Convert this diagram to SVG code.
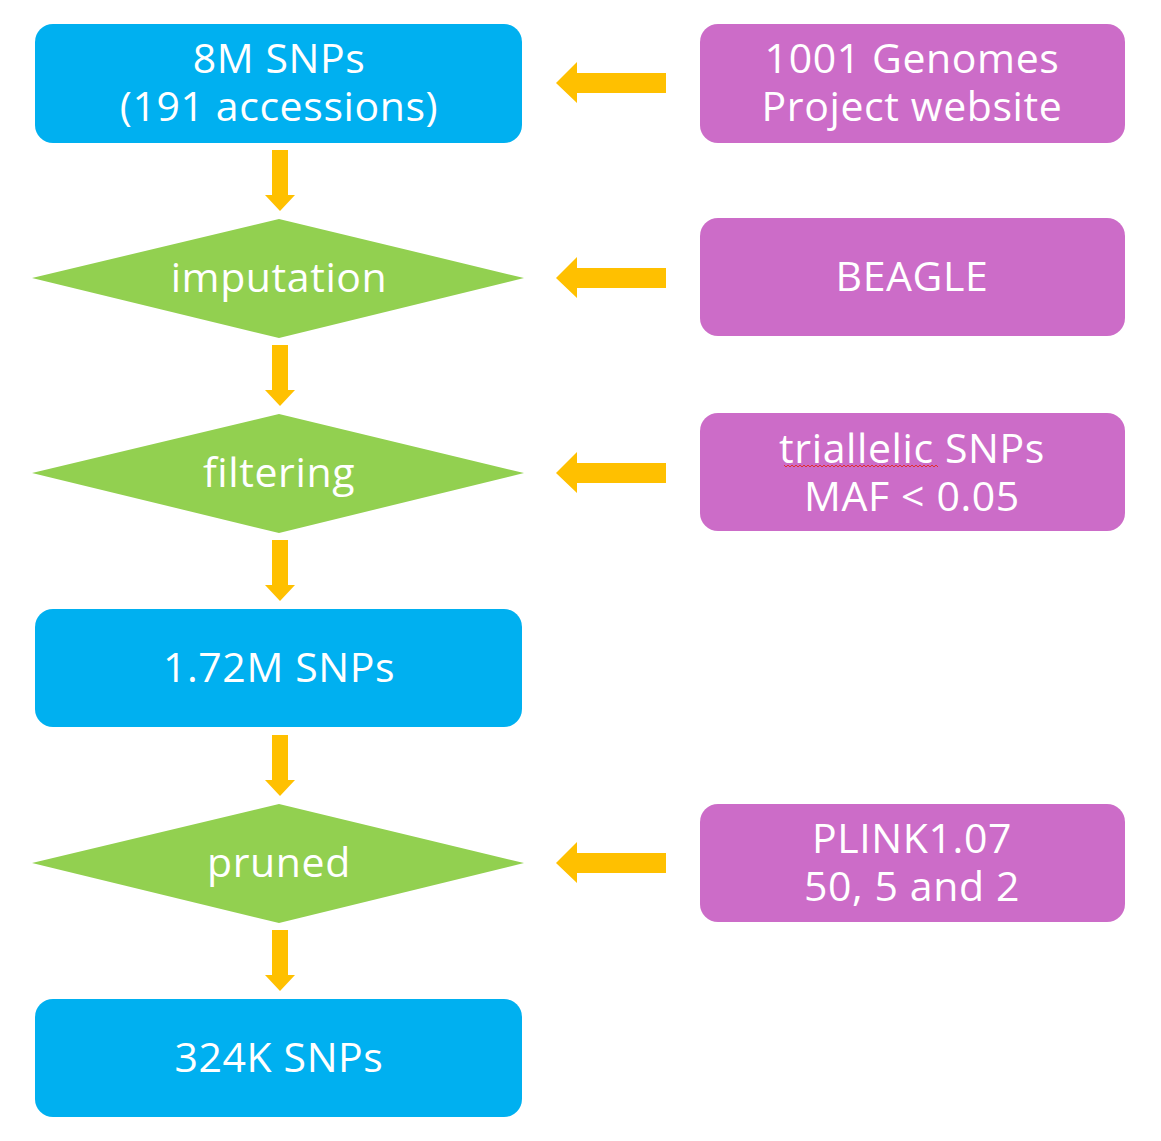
<svg xmlns="http://www.w3.org/2000/svg" width="1161" height="1141" viewBox="0 0 1161 1141">
<style>
.blue{fill:#00B0F0}
.green{fill:#92D050}
.purple{fill:#CC6CC8}
.arr{fill:#FFC000}
text{font-family:"Open Sans","Noto Sans","DejaVu Sans",sans-serif;font-size:41px;letter-spacing:0.6px;fill:#FFFFFF;text-anchor:middle}
</style>
<defs>
<path id="down" d="M272,150 H288 V195 H295 L280,211 L265,195 H272 Z" fill="#FFC000"/>
<path id="left" d="M666,73 V93 H577 V103 L556,83 L577,62 V73 Z" fill="#FFC000"/>
</defs>
<rect width="1161" height="1141" fill="#FFFFFF"/>
<g id="connectors">
<use href="#down" class="arr"/>
<use href="#down" class="arr" y="195"/>
<use href="#down" class="arr" y="390"/>
<use href="#down" class="arr" y="585"/>
<use href="#down" class="arr" y="780"/>
<use href="#left" class="arr"/>
<use href="#left" class="arr" y="195"/>
<use href="#left" class="arr" y="390"/>
<use href="#left" class="arr" y="780"/>
</g>
<g id="n1">
<rect class="blue" x="35" y="24" width="487" height="119" rx="18"/>
<text x="279" y="73">8M SNPs</text>
<text x="279" y="121">(191 accessions)</text>
</g>
<g id="n2">
<polygon class="green" points="32,278 279,219 524,278 279,338"/>
<text x="279" y="292">imputation</text>
</g>
<g id="n3">
<polygon class="green" points="32,473 279,414 524,473 279,533"/>
<text x="279" y="487">filtering</text>
</g>
<g id="n4">
<rect class="blue" x="35" y="609" width="487" height="118" rx="18"/>
<text x="279" y="682">1.72M SNPs</text>
</g>
<g id="n5">
<polygon class="green" points="32,863 279,804 524,863 279,923"/>
<text x="279" y="877">pruned</text>
</g>
<g id="n6">
<rect class="blue" x="35" y="999" width="487" height="118" rx="18"/>
<text x="279" y="1072">324K SNPs</text>
</g>
<g id="p1">
<rect class="purple" x="700" y="24" width="425" height="119" rx="18"/>
<text x="912" y="73">1001 Genomes</text>
<text x="912" y="121">Project website</text>
</g>
<g id="p2">
<rect class="purple" x="700" y="218" width="425" height="118" rx="18"/>
<text x="912" y="291">BEAGLE</text>
</g>
<g id="p3">
<rect class="purple" x="700" y="413" width="425" height="118" rx="18"/>
<text x="912" y="463">triallelic SNPs</text>
<text x="912" y="511">MAF &lt; 0.05</text>
<path d="M784,465 l2,2 l2,-2 l2,2 l2,-2 l2,2 l2,-2 l2,2 l2,-2 l2,2 l2,-2 l2,2 l2,-2 l2,2 l2,-2 l2,2 l2,-2 l2,2 l2,-2 l2,2 l2,-2 l2,2 l2,-2 l2,2 l2,-2 l2,2 l2,-2 l2,2 l2,-2 l2,2 l2,-2 l2,2 l2,-2 l2,2 l2,-2 l2,2 l2,-2 l2,2 l2,-2 l2,2 l2,-2 l2,2 l2,-2 l2,2 l2,-2 l2,2 l2,-2 l2,2 l2,-2 l2,2 l2,-2 l2,2 l2,-2 l2,2 l2,-2 l2,2 l2,-2 l2,2 l2,-2 l2,2 l2,-2 l2,2 l2,-2 l2,2 l2,-2 l2,2 l2,-2 l2,2 l2,-2 l2,2 l2,-2 l2,2 l2,-2 l2,2 l2,-2 l2,2 l2,-2 l2,2" fill="none" stroke="#E03030" stroke-width="1"/>
</g>
<g id="p4">
<rect class="purple" x="700" y="804" width="425" height="118" rx="18"/>
<text x="912" y="853">PLINK1.07</text>
<text x="912" y="901">50, 5 and 2</text>
</g>
</svg>
